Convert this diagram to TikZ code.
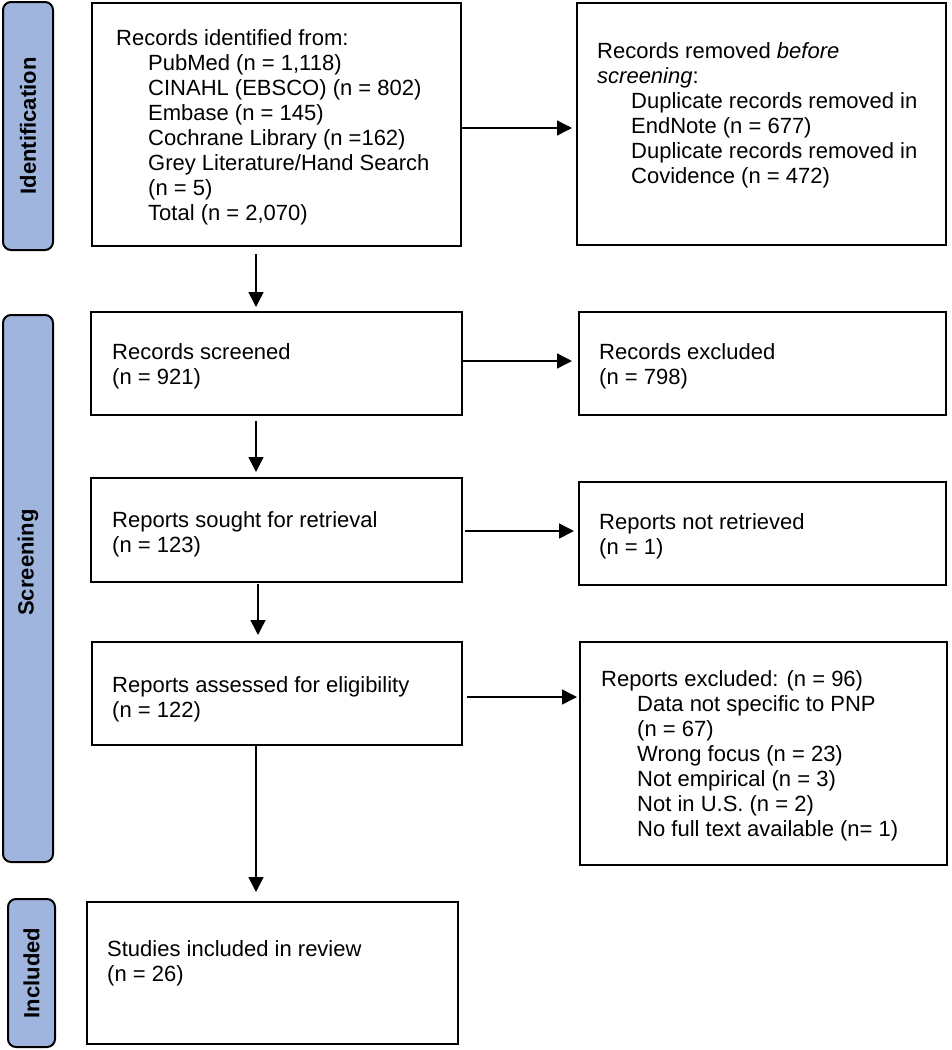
\documentclass[tikz,border=0pt]{standalone}
\usepackage{fontspec}
\setmainfont{Liberation Sans}
\usetikzlibrary{arrows.meta}
\definecolor{phase}{RGB}{160,181,222}
\newcommand\ind[1]{\strut\hskip#1pt}
\begin{document}
\begin{tikzpicture}[x=1pt,y=-1pt,
  box/.style={draw, line width=2pt, rectangle, inner sep=0},
  txt/.style={anchor=north west, inner sep=0, align=left, font=\fontsize{22}{25}\selectfont},
  phasebox/.style={draw, line width=2pt, fill=phase, rounded corners=8pt, inner sep=0, rotate=90,
    font=\bfseries\fontsize{22}{25}\selectfont},
  phasetxt/.style={inner sep=0, rotate=90, font=\bfseries\fontsize{22}{25}\selectfont},
  arr/.style={line width=1.5pt, -{Triangle[length=15pt,width=15pt]}}]
\useasboundingbox (0,0) rectangle (952,1050);

% phase labels
\node[phasebox, minimum width=248, minimum height=50] (pid) at (28,126) {Identification};
\node[phasebox, minimum width=547, minimum height=50] (pscr) at (28,588.5) {};
\node[phasetxt] (pscrt) at (28,562.5) {Screening};
\node[phasebox, minimum width=148, minimum height=47] (pinc) at (31.5,973) {Included};

% boxes
\node[box, minimum width=369, minimum height=243] (b1) at (276.5,124.5) {};
\node[box, minimum width=369, minimum height=242] (b2) at (761.5,124) {};
\node[box, minimum width=371, minimum height=103] (scr) at (276.5,363.5) {};
\node[box, minimum width=367, minimum height=103] (exc) at (762.5,363.5) {};
\node[box, minimum width=371, minimum height=104] (sou) at (276.5,530) {};
\node[box, minimum width=367, minimum height=103] (nrt) at (762.5,533.5) {};
\node[box, minimum width=370, minimum height=103] (ass) at (277,693.5) {};
\node[box, minimum width=367, minimum height=223] (rex) at (763.5,753.5) {};
\node[box, minimum width=371, minimum height=142] (inc) at (272.5,973) {};

% texts
\node[txt] (t1) at (116,27.5) {\strut Records identified from:\\
\ind{32}PubMed (n = 1,118)\\
\ind{32}CINAHL (EBSCO) (n = 802)\\
\ind{32}Embase (n = 145)\\
\ind{32}Cochrane Library (n =162)\\
\ind{32}Grey Literature/Hand Search\\
\ind{32}(n = 5)\\
\ind{32}Total (n = 2,070)};
\node[txt] (t2) at (597,40.5) {\strut Records removed \textit{before}\\
\strut\textit{screening}:\\
\ind{34}Duplicate records removed in\\
\ind{34}EndNote (n = 677)\\
\ind{34}Duplicate records removed in\\
\ind{34}Covidence (n = 472)};
\node[txt] (t3) at (112,341.5) {\strut Records screened\\\strut(n = 921)};
\node[txt] (t4) at (599,341.5) {\strut Records excluded\\\strut(n = 798)};
\node[txt] (t5) at (112,509.5) {\strut Reports sought for retrieval\\\strut(n = 123)};
\node[txt] (t6) at (599,511.5) {\strut Reports not retrieved\\\strut(n = 1)};
\node[txt] (t7) at (112,674.5) {\strut Reports assessed for eligibility\\\strut(n = 122)};
\node[txt] (t8) at (601,668.5) {\strut Reports excluded: (n = 96)\\
\ind{36}Data not specific to PNP\\
\ind{36}(n = 67)\\
\ind{36}Wrong focus (n = 23)\\
\ind{36}Not empirical (n = 3)\\
\ind{36}Not in U.S. (n = 2)\\
\ind{36}No full text available (n= 1)};
\node[txt] (t9) at (107,938.5) {\strut Studies included in review\\\strut(n = 26)};

% connector guides
\coordinate (vx) at (256,0);
\coordinate (vx2) at (258,0);
\coordinate (h1) at (0,128);
\coordinate (h2) at (0,361);
\coordinate (h3) at (0,531);
\coordinate (h4) at (0,697);

% vertical arrows
\draw[arr, shorten <=7pt, shorten >=4pt] (b1.south -| vx) -- (scr.north -| vx);
\draw[arr, shorten <=5pt, shorten >=5pt] (scr.south -| vx) -- (sou.north -| vx);
\draw[arr, shorten <=1pt, shorten >=6pt] (sou.south -| vx2) -- (ass.north -| vx2);
\draw[arr, shorten >=9pt] (ass.south -| vx) -- (inc.north -| vx);

% horizontal arrows
\draw[arr, shorten >=4pt] (b1.east |- h1) -- (b2.west |- h1);
\draw[arr, shorten >=6pt] (scr.east |- h2) -- (exc.west |- h2);
\draw[arr, shorten <=2pt, shorten >=4pt] (sou.east |- h3) -- (nrt.west |- h3);
\draw[arr, shorten <=4pt, shorten >=2pt] (ass.east |- h4) -- (rex.west |- h4);
\end{tikzpicture}
\end{document}
